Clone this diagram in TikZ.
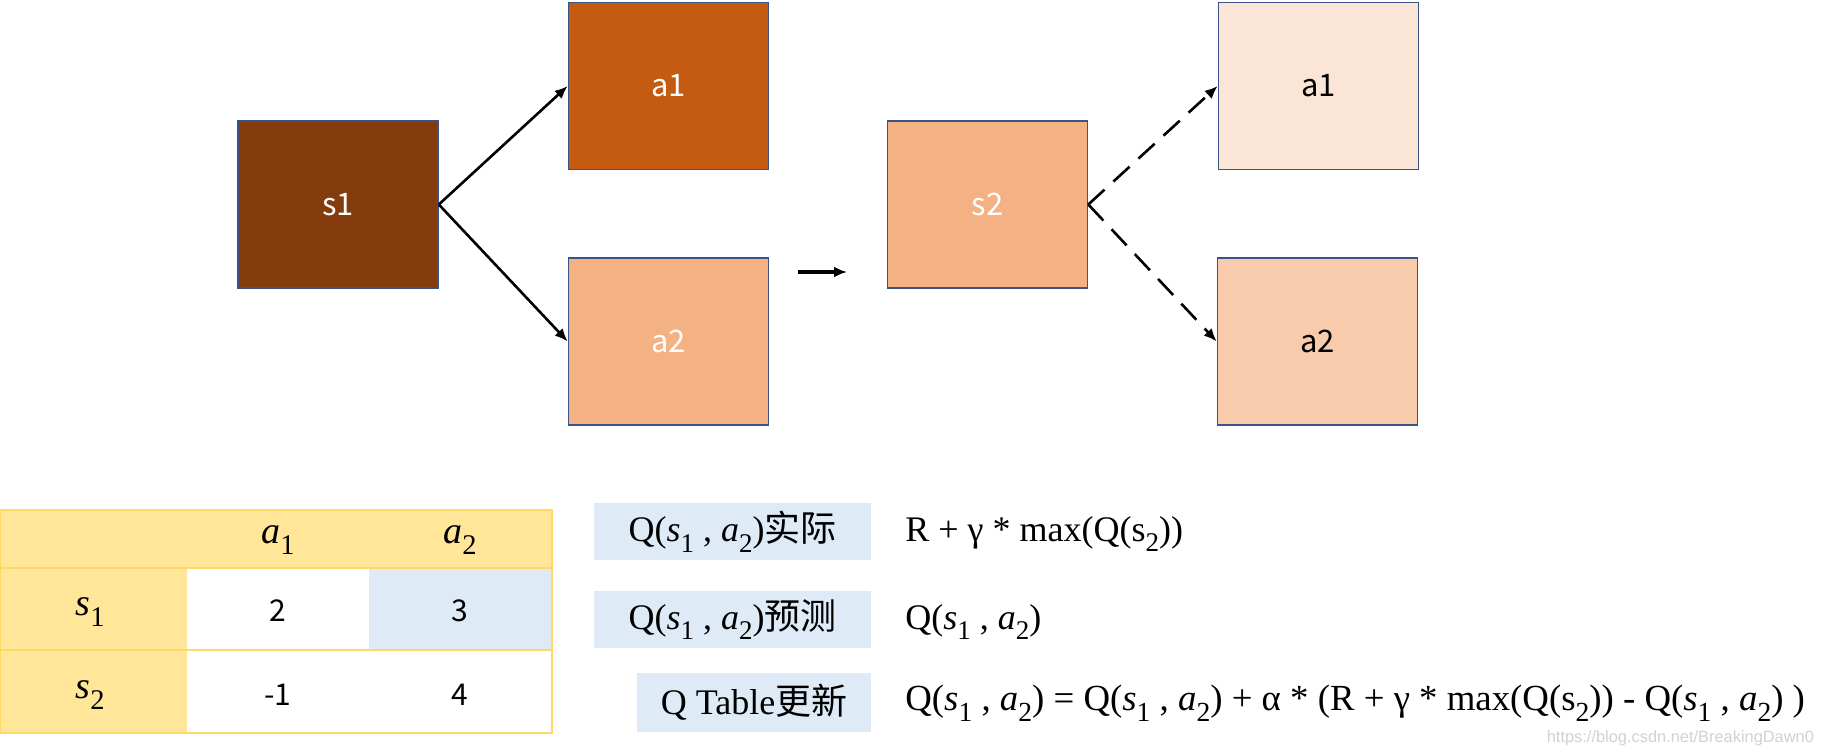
\documentclass[tikz,border=0pt]{standalone}
\usepackage{fontspec}
\setmainfont{Liberation Serif}
\newfontfamily\cjk{Noto Sans CJK SC}
\newfontfamily\wmfont{Liberation Sans}
\usetikzlibrary{arrows.meta,positioning}
\definecolor{brownS}{HTML}{843C0C}
\definecolor{orangeA}{HTML}{C55A11}
\definecolor{peach}{HTML}{F4B183}
\definecolor{peachLight}{HTML}{FBE5D6}
\definecolor{peachMid}{HTML}{F8CBAD}
\definecolor{edgeBlue}{HTML}{3A5488}
\definecolor{cellBlue}{HTML}{DEEBF7}
\definecolor{headYellow}{HTML}{FFE699}
\definecolor{lineGold}{HTML}{FFD966}
% italic variable with a subscript
\newcommand\qv[2]{\textit{#1}\raisebox{-0.3em}{\scalebox{0.75}{#2}}}
\newcommand\subtwo{\raisebox{-0.3em}{\scalebox{0.75}{2}}}
\begin{document}
\begin{tikzpicture}[x=0.5pt, y=-0.5pt,
    box/.style={draw=edgeBlue, line width=0.8pt, minimum width=100pt,
        minimum height=83.5pt, inner sep=0pt, font=\cjk\fontsize{15.5}{18}\selectfont},
    lbl/.style={fill=cellBlue, inner sep=0pt, minimum width=138.5pt,
        minimum height=28.5pt, font=\fontsize{18}{22}\selectfont},
    frm/.style={anchor=west, inner sep=0pt, font=\fontsize{18}{22}\selectfont},
    cell/.style={font=\cjk\fontsize{15}{18}\selectfont},
    hdr/.style={font=\fontsize{19}{22}\selectfont},
    flow/.style={-{Latex[length=6.5pt,width=5.5pt]}, line width=1.3pt},
]
\useasboundingbox (0,0) rectangle (1830,748);

% s1 and its two actions
\node[box, fill=brownS, text=white] (s1) at (338,204.5) {s1};
\node[box, fill=orangeA, text=white] (a1L) at (668.5,86) {a1};
\node[box, fill=peach, text=white] (a2L) at (668.5,341.5) {a2};

\draw[flow] (s1.east) -- (a1L.west);
\draw[flow] (s1.east) -- (a2L.west);

% step to s2
\coordinate (go0) at (798,272);
\coordinate (go1) at (847,272);
\draw[flow, line width=1.6pt] (go0) -- (go1);

% s2 and its two actions (not taken)
\node[box, fill=peach, text=white] (s2) at (987.5,204.5) {s2};
\node[box, fill=peachLight] (a1R) at (1318.5,86) {a1};
\node[box, fill=peachMid] (a2R) at (1317.5,341.5) {a2};

\draw[flow, dash pattern=on 11pt off 6pt] (s2.east) -- (a1R.west);
\draw[flow, dash pattern=on 11pt off 6pt] (s2.east) -- (a2R.west);

% Q table
\fill[headYellow] (0,510) rectangle (552,568);
\fill[headYellow] (0,568) rectangle (187,733);
\fill[cellBlue] (369,568) rectangle (552,650);
\draw[lineGold, line width=0.6pt] (0,510) rectangle (552,733);
\draw[lineGold, line width=0.6pt] (0,568) -- (552,568) (0,650) -- (552,650);

\node[hdr] (ha1) at (278,540) {\qv{a}{1}};
\node[hdr] (ha2) at (460,540) {\qv{a}{2}};
\node[hdr] (hs1) at (90,612) {\qv{s}{1}};
\node[hdr] (hs2) at (90,695) {\qv{s}{2}};
\node[cell] (q11) at (278,611) {2};
\node[cell] (q12) at (460,611) {3};
\node[cell] (q21) at (278,695) {-1};
\node[cell] (q22) at (460,695) {4};

% update rule
\node[lbl] (real) at (732.5,531.5) {Q(\qv{s}{1} , \qv{a}{2}){\cjk 实际}};
\node[lbl] (pred) at (732.5,619.5) {Q(\qv{s}{1} , \qv{a}{2}){\cjk 预测}};
\node[lbl, minimum width=117pt, minimum height=29.5pt] (upd) at (754,702.5)
    {Q Table{\cjk 更新}};

\node[frm] (realf) at (905,534) {R + γ * max(Q(s\subtwo))};
\node[frm] (predf) at (905,622) {Q(\qv{s}{1} , \qv{a}{2})};
\node[frm, font=\fontsize{18.4}{22}\selectfont] (updf) at (905,703)
    {Q(\qv{s}{1} , \qv{a}{2}) = Q(\qv{s}{1} , \qv{a}{2}) + α * (R + γ * max(Q(s\subtwo)) - Q(\qv{s}{1} , \qv{a}{2}) )};

\node[anchor=east, text=black!18, font=\wmfont\fontsize{8.2}{9}\selectfont]
    (wm) at (1821,738) {https://blog.csdn.net/BreakingDawn0};
\end{tikzpicture}
\end{document}
